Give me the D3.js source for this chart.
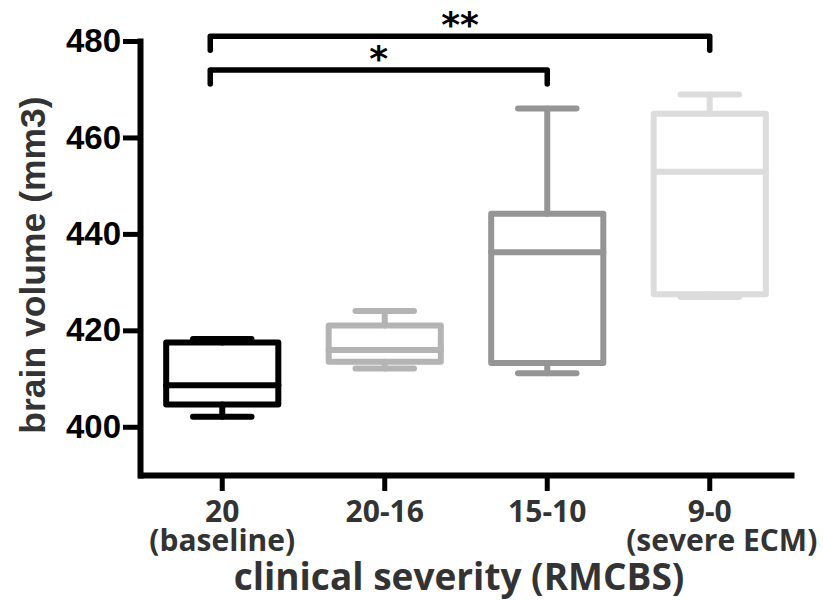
<!DOCTYPE html>
<html>
<head>
<meta charset="utf-8">
<script src="https://cdn.jsdelivr.net/npm/d3@7"></script>
<style>
  body { margin: 0; background: #fff; }
  svg { display: block; }
</style>
</head>
<body>
<div id="chart"></div>
<script>
// groups (clinical severity score)
const categories = ["20", "20-16", "15-10", "9-0"];
const subLabels = ["(baseline)", "", "", "(severe ECM)"];
const boxColors = ["#000000", "#b4b4b4", "#959595", "#dcdcdc"];

// box plot values (mm3)
const minValues = [402.1, 412.1, 411.1, 426.9];
const q1Values = [404.6, 413.5, 413.2, 427.5];
const medianValues = [408.6, 415.9, 436.2, 452.9];
const q3Values = [417.5, 421.0, 444.2, 464.9];
const maxValues = [418.2, 424.0, 466.0, 468.9];

const yTicks = [400, 420, 440, 460, 480];

// significance brackets
const brackets = [
  { from: "20", to: "9-0", label: "**", level: 481 },
  { from: "20", to: "15-10", label: "*", level: 474 },
];

const width = 823,
  height = 600;
const margin = { top: 41, right: 32, bottom: 125, left: 141 };

const svg = d3
  .select("#chart")
  .append("svg")
  .attr("width", width)
  .attr("height", height);

const x = d3
  .scaleBand()
  .domain(categories)
  .range([margin.left, width - margin.right])
  .paddingInner(0)
  .paddingOuter(0);

const y = d3
  .scaleLinear()
  .domain([390, 480])
  .range([height - margin.bottom, margin.top]);

const data = categories.map((c, i) => ({
  cat: c,
  sub: subLabels[i],
  color: boxColors[i],
  min: minValues[i],
  q1: q1Values[i],
  median: medianValues[i],
  q3: q3Values[i],
  max: maxValues[i],
}));

const boxW = x.bandwidth() * 0.69;
const capW = x.bandwidth() * 0.36;
const cx = (d) => x(d) + x.bandwidth() / 2;

// Y axis
const yAxis = svg
  .append("g")
  .attr("transform", `translate(${margin.left - 1}, 0)`)
  .call(d3.axisLeft(y).tickValues(yTicks).tickSize(17).tickSizeOuter(0).tickPadding(2));
yAxis.select(".domain").attr("stroke", "#000").attr("stroke-width", 6).attr("stroke-linecap", "square");
yAxis.selectAll(".tick line").attr("stroke", "#000").attr("stroke-width", 5);
yAxis
  .selectAll(".tick text")
  .attr("fill", "#000")
  .style("font-family", "'Liberation Sans', Arial, sans-serif")
  .style("font-weight", "bold")
  .style("font-size", "33px");

// X axis
const xAxis = svg
  .append("g")
  .attr("transform", `translate(0, ${height - margin.bottom})`)
  .call(d3.axisBottom(x).tickSize(16).tickSizeOuter(0).tickFormat(""));
xAxis.select(".domain").attr("stroke", "#000").attr("stroke-width", 6).attr("stroke-linecap", "square");
xAxis.selectAll(".tick line").attr("stroke", "#000").attr("stroke-width", 5);

const tickG = xAxis.selectAll(".tick").data(data);
const labelStyle = (sel) =>
  sel
    .attr("fill", "#333")
    .attr("text-anchor", "middle")
    .style("font-family", "'Open Sans', sans-serif")
    .style("font-weight", "bold")
    .style("font-size", "30px");

tickG
  .append("text")
  .call(labelStyle)
  .attr("y", 47)
  .text((d) => d.cat);
tickG
  .filter((d) => d.sub !== "")
  .append("text")
  .call(labelStyle)
  .attr("x", (d, i) => (i === 1 ? 12 : 0))
  .attr("y", 76)
  .text((d) => d.sub);

// axis titles
svg
  .append("text")
  .attr("x", 459)
  .attr("y", 590)
  .attr("text-anchor", "middle")
  .attr("fill", "#333")
  .style("font-family", "'Open Sans', sans-serif")
  .style("font-weight", "bold")
  .style("font-size", "37px")
  .text("clinical severity (RMCBS)");

svg
  .append("text")
  .attr("transform", `translate(45, 265) rotate(-90)`)
  .attr("text-anchor", "middle")
  .attr("fill", "#333")
  .style("font-family", "'Liberation Sans', Arial, sans-serif")
  .style("font-weight", "bold")
  .style("font-size", "35.5px")
  .text("brain volume (mm3)");

// Boxes
const boxes = svg
  .selectAll(".box")
  .data(data)
  .join("g")
  .attr("class", "box")
  .attr("stroke", (d) => d.color)
  .attr("stroke-width", 6)
  .attr("stroke-linecap", "round")
  .attr("stroke-linejoin", "round")
  .attr("fill", "none");

// whiskers
boxes
  .append("line")
  .attr("x1", (d) => cx(d.cat))
  .attr("x2", (d) => cx(d.cat))
  .attr("y1", (d) => y(d.q3))
  .attr("y2", (d) => y(d.max));
boxes
  .append("line")
  .attr("x1", (d) => cx(d.cat))
  .attr("x2", (d) => cx(d.cat))
  .attr("y1", (d) => y(d.q1))
  .attr("y2", (d) => y(d.min));

// caps
boxes
  .append("line")
  .attr("x1", (d) => cx(d.cat) - capW / 2)
  .attr("x2", (d) => cx(d.cat) + capW / 2)
  .attr("y1", (d) => y(d.max))
  .attr("y2", (d) => y(d.max));
boxes
  .append("line")
  .attr("x1", (d) => cx(d.cat) - capW / 2)
  .attr("x2", (d) => cx(d.cat) + capW / 2)
  .attr("y1", (d) => y(d.min))
  .attr("y2", (d) => y(d.min));

// box body
boxes
  .append("rect")
  .attr("x", (d) => cx(d.cat) - boxW / 2)
  .attr("width", boxW)
  .attr("y", (d) => y(d.q3))
  .attr("height", (d) => y(d.q1) - y(d.q3));

// median
boxes
  .append("line")
  .attr("x1", (d) => cx(d.cat) - boxW / 2)
  .attr("x2", (d) => cx(d.cat) + boxW / 2)
  .attr("y1", (d) => y(d.median))
  .attr("y2", (d) => y(d.median));

// significance brackets
const bracketDrop = 14;
const bracketG = svg
  .selectAll(".bracket")
  .data(brackets)
  .join("g")
  .attr("class", "bracket");

bracketG
  .append("path")
  .attr("fill", "none")
  .attr("stroke", "#000")
  .attr("stroke-width", 5.5)
  .attr("stroke-linejoin", "round")
  .attr("stroke-linecap", "round")
  .attr("d", (d) => {
    const x0 = cx(d.from) - 12,
      x1 = cx(d.to),
      yy = y(d.level);
    return `M${x0},${yy + bracketDrop}V${yy}H${x1}V${yy + bracketDrop}`;
  });

bracketG
  .append("text")
  .attr("x", (d) => (cx(d.from) - 12 + cx(d.to)) / 2)
  .attr("y", (d) => y(d.level) + 1)
  .attr("text-anchor", "middle")
  .attr("fill", "#000")
  .style("font-family", "'DejaVu Sans', sans-serif")
  .style("font-weight", "bold")
  .style("font-size", "36px")
  .text((d) => d.label);
</script>
</body>
</html>
